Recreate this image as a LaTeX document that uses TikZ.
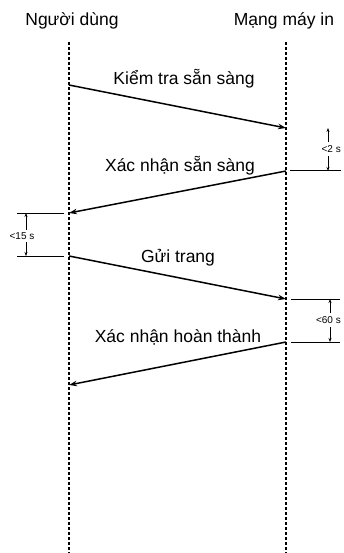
\documentclass[tikz,border=0pt]{standalone}
\usepackage{fontspec}
\setmainfont{Liberation Sans}
\usetikzlibrary{arrows.meta}
\begin{document}
\begin{tikzpicture}[
        x=1pt, y=-1pt, >={Stealth[length=8pt,width=5.5pt]},
        font=\fontsize{17.5}{20}\selectfont,
        actor/.style={anchor=base, inner sep=0pt},
        life/.style={line width=1.2pt, dash pattern=on 3pt off 2pt},
        msg/.style={line width=1.5pt, ->},
        lbl/.style={anchor=base, inner sep=0pt},
        ext/.style={line width=1pt},
        dim/.style={line width=0.8pt, <->, >={Stealth[length=4pt,width=3pt]}},
        dimtxt/.style={fill=white, inner xsep=1pt, inner ysep=3pt, font=\fontsize{10}{12}\selectfont}
    ]
        \useasboundingbox (0,0) rectangle (343,553);
        \node[actor] (user) at (72,26) {Người dùng};
        \node[actor] (net) at (284,26) {Mạng máy in};
        \coordinate (u0) at (69,42); \coordinate (uN) at (69,553);
        \coordinate (n0) at (286,42); \coordinate (nN) at (286,553);
        \draw[life] (u0) -- (uN); \draw[life] (n0) -- (nN);
        % message endpoints
        \coordinate (u1) at (69,85); \coordinate (n1) at (286,128);
        \coordinate (n2) at (286,171); \coordinate (u2) at (69,213);
        \coordinate (u3) at (69,256); \coordinate (n3) at (286,299);
        \coordinate (n4) at (286,342); \coordinate (u4) at (69,385);
        \draw[msg] (u1) -- (n1); \draw[msg] (n2) -- (u2);
        \draw[msg] (u3) -- (n3); \draw[msg] (n4) -- (u4);
        \node[lbl] (ready) at (184,85) {Kiểm tra sẵn sàng};
        \node[lbl] (ack) at (180,172) {Xác nhận sẵn sàng};
        \node[lbl] (page) at (178,262) {Gửi trang};
        \node[lbl] (done) at (178,342) {Xác nhận hoàn thành};
        % timing marks
        \coordinate (e2a) at (290,171); \coordinate (e2b) at (341,171);
        \draw[ext] (e2a) -- (e2b);
        \coordinate (d2a) at (328,128); \coordinate (d2b) at (328,171);
        \draw[dim] (d2a) -- (d2b);
        \node[dimtxt, anchor=east] (t2) at (342,149) {<2 s};
        \coordinate (e15a) at (17,213); \coordinate (e15b) at (64,213);
        \coordinate (e15c) at (17,256); \coordinate (e15d) at (64,256);
        \draw[ext] (e15a) -- (e15b); \draw[ext] (e15c) -- (e15d);
        \coordinate (d15a) at (26,213); \coordinate (d15b) at (26,256);
        \draw[dim] (d15a) -- (d15b);
        \node[dimtxt] (t15) at (22,236) {<15 s};
        \coordinate (e60a) at (291,299); \coordinate (e60b) at (340,299);
        \coordinate (e60c) at (291,342); \coordinate (e60d) at (340,342);
        \draw[ext] (e60a) -- (e60b); \draw[ext] (e60c) -- (e60d);
        \coordinate (d60a) at (330,299); \coordinate (d60b) at (330,342);
        \draw[dim] (d60a) -- (d60b);
        \node[dimtxt, anchor=east] (t60) at (342,320) {<60 s};
    \end{tikzpicture}
\end{document}
